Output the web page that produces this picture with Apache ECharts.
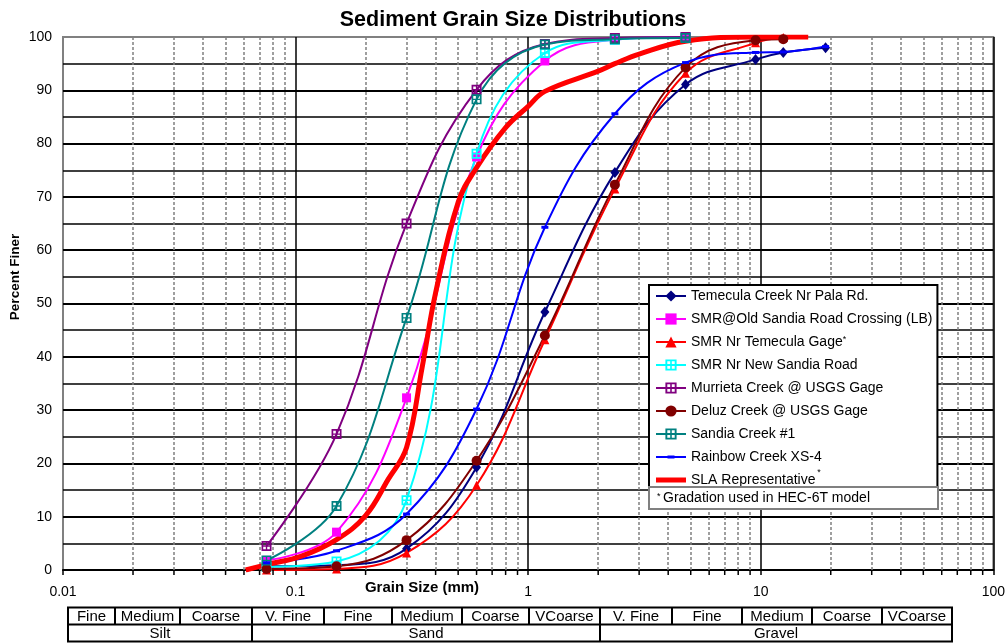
<!DOCTYPE html>
<html>
<head>
<meta charset="utf-8">
<title>Sediment Grain Size Distributions</title>
<script src="https://cdn.jsdelivr.net/npm/echarts@6/dist/echarts.min.js"></script>
<style>
html, body { margin: 0; padding: 0; background: #fff; }
#chart { width: 1008px; height: 643px; }
</style>
</head>
<body>
<div id="chart"></div>
<script>
// sieve openings (mm)
const sieveSizes = [0.075, 0.15, 0.3, 0.6, 1.18, 2.36, 4.75, 9.5, 12.5, 19]
// percent finer at each sieve
const temeculaPala = [0.7, 0.9, 4.0, 19.3, 48.4, 74.6, 91.1, 95.8, 97.1, 98.0]
const smrOldSandia = [1.8, 7.1, 32.3, 77.5, 95.5, 99.5, 100]
const smrTemeculaGage = [0, 0.2, 3.2, 15.9, 43.2, 71.5, 93.2, 98.9, 99.9]
const smrNewSandia = [0.6, 1.6, 13.1, 78.1, 97.0, 99.5, 100]
const murrieta = [4.5, 25.5, 65.0, 90.1, 98.7, 99.8, 100]
const deluz = [0.2, 0.7, 5.6, 20.5, 44.0, 72.3, 94.3, 99.4, 99.6]
const sandia1 = [1.8, 12.0, 47.3, 88.3, 98.6, 99.6, 99.8]
const rainbow = [1.35, 3.6, 10.5, 30.2, 64.3, 85.6, 95.2, 97.1, 97.2, 98.2]

// SLA representative gradation (no markers)
const slaSizes = [0.061, 0.075, 0.106, 0.15, 0.2, 0.25, 0.3, 0.35, 0.4, 0.5, 0.6, 0.8, 1.0, 1.18, 2.0, 2.36, 3.0, 4.75, 9.5, 16]
const slaPercent = [0, 1.0, 2.6, 5.7, 10.2, 17, 23, 38, 52, 69, 75.5, 83, 87, 89.8, 93.6, 95, 96.8, 99.2, 100, 100]

// size class table under the axis
const sizeClasses = ['Fine', 'Medium', 'Coarse', 'V. Fine', 'Fine', 'Medium', 'Coarse', 'VCoarse', 'V. Fine', 'Fine', 'Medium', 'Coarse', 'VCoarse']
const sizeGroups = ['Silt', 'Sand', 'Gravel']
const groupSpans = [3, 5, 5]

const FONT = '"Liberation Sans", Arial, sans-serif'
// table column edges (px)
const tableCols = [68, 115, 180, 252, 324, 392, 462, 529, 600, 672, 742, 812, 882, 952]

const gridSquare = 'path://M0,0L10,0L10,10L0,10Z M1.7,1.7L1.7,4.3L4.3,4.3L4.3,1.7Z M5.7,1.7L5.7,4.3L8.3,4.3L8.3,1.7Z M1.7,5.7L1.7,8.3L4.3,8.3L4.3,5.7Z M5.7,5.7L5.7,8.3L8.3,8.3L8.3,5.7Z'
// legend icons drawn as 30x14 paths (corner specks keep the box size)
const iconBox = 'M0,0L0.01,0L0,0.01Z M30,14L29.99,14L30,13.99Z '
const rainbowIcon = 'path://' + iconBox + 'M0,6L30,6L30,8L0,8Z M11.5,5.5L18.5,5.5L18.5,8.5L11.5,8.5Z'
const slaIcon = 'path://' + iconBox + 'M0,4.5L30,4.5L30,9.5L0,9.5Z'

const seriesDefs = [
    { name: 'Temecula Creek Nr Pala Rd.', values: temeculaPala, color: '#000080', symbol: 'diamond', size: [9, 11] },
    { name: 'SMR@Old Sandia Road Crossing (LB)', values: smrOldSandia, color: '#FF00FF', symbol: 'rect', size: 9 },
    { name: 'SMR Nr Temecula Gage', values: smrTemeculaGage, color: '#FF0000', symbol: 'triangle', size: 9 },
    { name: 'SMR Nr New Sandia Road', values: smrNewSandia, color: '#00FFFF', symbol: gridSquare, size: 10 },
    { name: 'Murrieta Creek @ USGS Gage', values: murrieta, color: '#800080', symbol: gridSquare, size: 10 },
    { name: 'Deluz Creek @ USGS Gage', values: deluz, color: '#800000', symbol: 'circle', size: 10 },
    { name: 'Sandia Creek #1', values: sandia1, color: '#008080', symbol: gridSquare, size: 10 },
    { name: 'Rainbow Creek XS-4', values: rainbow, color: '#0000FF', symbol: 'rect', size: [7, 3], icon: rainbowIcon }
]

const minorSizes = []
;[0.01, 0.1, 1, 10].forEach(dec => {
    for (let k = 2; k <= 9; k++) minorSizes.push(+(dec * k).toPrecision(3))
})

const series = [{
    // carrier for the dashed minor grid lines
    type: 'line',
    data: [],
    silent: true,
    z: 1,
    markLine: {
        z: 1,
        silent: true,
        animation: false,
        symbol: ['none', 'none'],
        label: { show: false },
        lineStyle: { color: '#808080', type: [3, 2], width: 1.5 },
        data: minorSizes.map(d => ({ xAxis: d }))
    }
}]

seriesDefs.forEach(s => {
    series.push({
        name: s.name,
        type: 'line',
        z: 2,
        smooth: 0.4,
        data: s.values.map((v, i) => [sieveSizes[i], v]),
        symbol: s.symbol,
        symbolSize: s.size,
        showAllSymbol: true,
        itemStyle: { color: s.color },
        lineStyle: { color: s.color, width: 2 }
    })
})

series.push({
    name: 'SLA Representative',
    type: 'line',
    z: 2,
    smooth: 0.4,
    symbol: 'none',
    data: slaSizes.map((d, i) => [d, slaPercent[i]]),
    itemStyle: { color: '#FF0000' },
    lineStyle: { color: '#FF0000', width: 5 }
})

const legendData = seriesDefs.map(s => s.icon ? { name: s.name, icon: s.icon } : s.name)
legendData.push({ name: 'SLA Representative', icon: slaIcon })

const option = {
    animation: false,
    backgroundColor: '#fff',
    title: {
        text: 'Sediment Grain Size Distributions',
        left: 508,
        top: 4,
        textAlign: 'center',
        textStyle: { fontFamily: FONT, fontSize: 21.5, fontWeight: 'bold', color: '#000' }
    },
    grid: {
        left: 63,
        right: 11,
        top: 37,
        bottom: 73,
        show: true,
        borderColor: '#808080',
        borderWidth: 2
    },
    legend: {
        orient: 'vertical',
        left: 649,
        top: 285,
        data: legendData,
        selectedMode: false,
        itemWidth: 30,
        itemHeight: 14,
        itemGap: 9,
        padding: [4, 5, 3, 6],
        backgroundColor: '#fff',
        borderColor: '#000',
        borderWidth: 2,
        formatter: function (name) {
            if (name === 'SMR Nr Temecula Gage') return name + '{sup|*}'
            return name
        },
        textStyle: {
            fontFamily: FONT,
            fontSize: 14,
            color: '#000',
            rich: {
                sup: { fontFamily: FONT, fontSize: 9, color: '#000', padding: [0, 0, 5, 0] }
            }
        }
    },
    xAxis: {
        type: 'log',
        logBase: 10,
        min: 0.01,
        max: 100,
        axisLine: { lineStyle: { color: '#000', width: 2 } },
        axisTick: { show: true, length: 5, lineStyle: { color: '#000', width: 1.5 } },
        axisLabel: { fontFamily: FONT, fontSize: 14, color: '#000', margin: 15 },
        splitLine: { show: true, showMinLine: false, lineStyle: { color: '#000', width: 1.5 } }
    },
    yAxis: {
        type: 'value',
        min: 0,
        max: 100,
        interval: 10,
        axisLine: { show: false },
        axisTick: { show: false },
        axisLabel: { fontFamily: FONT, fontSize: 14, color: '#000', margin: 11 },
        splitLine: { show: true, showMaxLine: false, lineStyle: { color: '#000', width: 2 } },
        minorTick: { show: false, splitNumber: 2 },
        minorSplitLine: { show: true, lineStyle: { color: '#000', width: 1.5 } }
    },
    series: series
}

const chart = echarts.init(document.getElementById('chart'))
chart.setOption(option)

function txt (x, y, text, extra) {
    return {
        type: 'text',
        x: x,
        y: y,
        z: 10,
        style: Object.assign({
            text: text,
            fontFamily: FONT,
            fontSize: 15,
            fill: '#000',
            textAlign: 'center',
            textVerticalAlign: 'middle',
            align: 'center',
            verticalAlign: 'middle'
        }, extra || {})
    }
}

function seg (x1, y1, x2, y2, w, color) {
    return {
        type: 'line',
        z: 10,
        shape: { x1: x1, y1: y1, x2: x2, y2: y2 },
        style: { stroke: color || '#000', lineWidth: w || 2 }
    }
}

const els = []
// axis names
els.push(txt(422, 588, 'Grain Size (mm)', { fontWeight: 'bold', fontSize: 15 }))
const yName = txt(15, 277, 'Percent Finer', { fontWeight: 'bold', fontSize: 13.5 })
yName.rotation = Math.PI / 2
els.push(yName)

// minor ticks under the x axis
const yBase = chart.convertToPixel({ yAxisIndex: 0 }, 0)
minorSizes.forEach(d => {
    const x = chart.convertToPixel({ xAxisIndex: 0 }, d)
    els.push(seg(x, yBase, x, yBase + 5, 1.5))
})

// raised star after the SLA legend entry
els.push(txt(819, 473, '*', { fontSize: 9, z: 11 }))

// note under the legend
els.push({
    type: 'rect',
    z: 10,
    shape: { x: 649, y: 487, width: 289, height: 22 },
    style: { fill: '#fff', stroke: '#808080', lineWidth: 2 }
})
els.push(txt(657, 497, '*', { fontSize: 9, textAlign: 'left', align: 'left' }))
els.push(txt(663, 498, 'Gradation used in HEC-6T model', { fontSize: 14, textAlign: 'left', align: 'left' }))

// size class table
const tTop = 607.5
const tMid = 624.5
const tBot = 641.5
const tLeft = tableCols[0]
const tRight = tableCols[tableCols.length - 1]
els.push({
    type: 'rect',
    z: 10,
    shape: { x: tLeft, y: tTop, width: tRight - tLeft, height: tBot - tTop },
    style: { fill: 'none', stroke: '#000', lineWidth: 2 }
})
els.push(seg(tLeft, tMid, tRight, tMid))
sizeClasses.forEach((label, i) => {
    const x0 = tableCols[i]
    const x1 = tableCols[i + 1]
    if (i > 0) els.push(seg(x0, tTop, x0, tMid))
    els.push(txt((x0 + x1) / 2, (tTop + tMid) / 2 + 1, label))
})
let col = 0
sizeGroups.forEach((label, i) => {
    const x0 = tableCols[col]
    const x1 = tableCols[col + groupSpans[i]]
    if (i > 0) els.push(seg(x0, tMid, x0, tBot))
    els.push(txt((x0 + x1) / 2, (tMid + tBot) / 2 + 1, label))
    col += groupSpans[i]
})

chart.setOption({ graphic: { elements: els } })
</script>
</body>
</html>
